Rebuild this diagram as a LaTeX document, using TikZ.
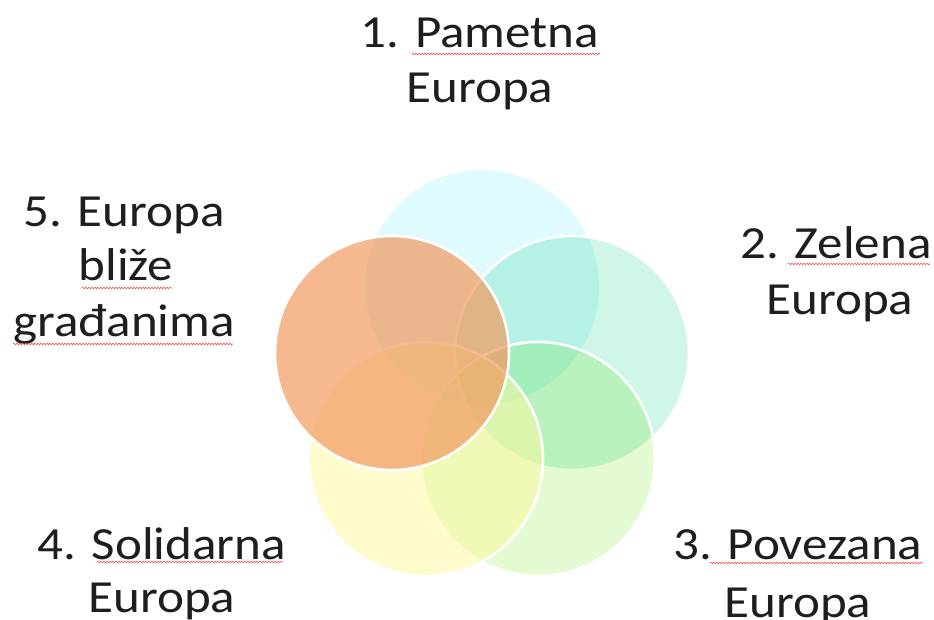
\documentclass[tikz,border=0pt]{standalone}
\usepackage{fontspec}
\setmainfont{Carlito}[FakeStretch=1.11]
\usetikzlibrary{decorations.pathmorphing}
\definecolor{ccyan}{HTML}{E0FBFD}
\definecolor{cteal}{HTML}{CFF6E7}
\definecolor{cgreen}{HTML}{E4FAD2}
\definecolor{cyellow}{HTML}{FFF99B}
\definecolor{corange}{HTML}{F19A60}
\definecolor{txt}{HTML}{1E1E1E}
\tikzset{
  lbl/.style={anchor=base, inner sep=0pt, text=txt, font=\fontsize{46}{56}\selectfont},
  ring/.style={draw=white, line width=2.6pt},
  squig/.style={draw=red!70!white, line width=0.6pt, decorate,
     decoration={snake, amplitude=0.8pt, segment length=3pt}}
}
\begin{document}
\begin{tikzpicture}[x=1pt,y=-1pt]
\useasboundingbox[fill=white] (0,0) rectangle (934,620);
% circles
\begin{scope}[blend mode=multiply]
  \fill[ccyan] (482,287) circle[radius=117pt];
  \fill[cteal] (572,353) circle[radius=117pt];
\end{scope}
\draw[ring] (572,353) circle[radius=117pt];
\begin{scope}[blend mode=multiply]
  \fill[cgreen] (538,459) circle[radius=117pt];
\end{scope}
\draw[ring] (538,459) circle[radius=117pt];
\fill[cyellow, fill opacity=0.5] (426,459) circle[radius=117pt];
\draw[ring] (426,459) circle[radius=117pt];
\fill[corange, fill opacity=0.7] (392,353) circle[radius=117pt];
\draw[ring] (392,353) circle[radius=117pt];
% labels
\node[lbl] (t1a) at (480,48) {1. Pametna};
\node[lbl] (t1b) at (480,103) {Europa};
\node[lbl] (t2a) at (836,259) {2. Zelena};
\node[lbl] (t2b) at (840,314) {Europa};
\node[lbl] (t3a) at (798,559) {3. Povezana};
\node[lbl] (t3b) at (798,617) {Europa};
\node[lbl] (t4a) at (162,559) {4. Solidarna};
\node[lbl] (t4b) at (162,612) {Europa};
\node[lbl] (t5a) at (124,227) {5. Europa};
\node[lbl] (t5b) at (126,281) {bliže};
\node[lbl] (t5c) at (124,336) {građanima};
% spell-check underlines
\draw[squig] (412,54) -- (600,54);
\draw[squig] (788,264) -- (930,264);
\draw[squig] (82,288) -- (172,288);
\draw[squig] (13,344) -- (233,344);
\draw[squig] (97,562) -- (283,562);
\draw[squig] (710,563) -- (923,563);
\end{tikzpicture}
\end{document}
